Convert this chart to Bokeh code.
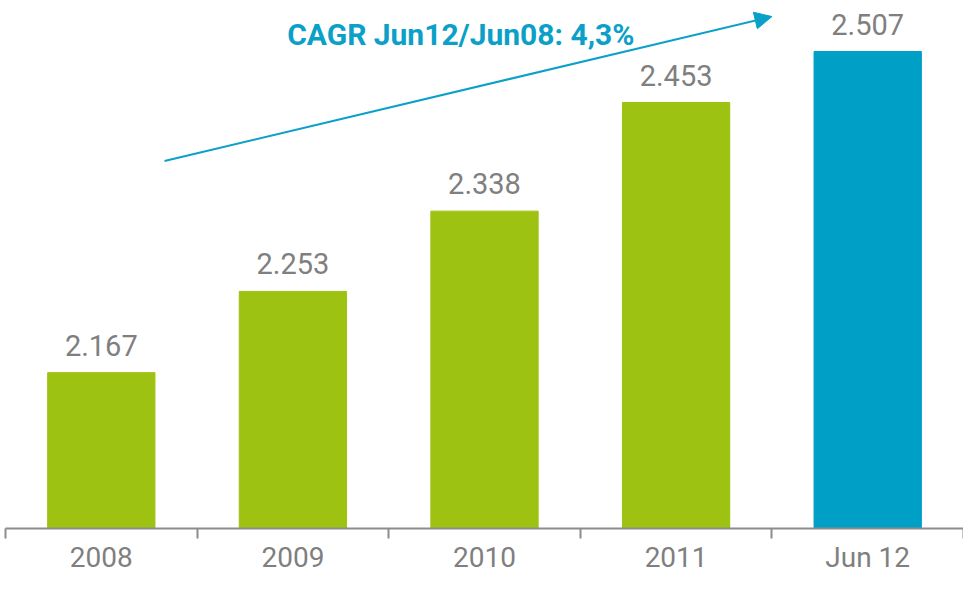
from bokeh.plotting import figure
from bokeh.models import ColumnDataSource, LabelSet, Label, Arrow, NormalHead, FixedTicker, Range1d
from bokeh.core.properties import value
from bokeh.embed import file_html
from bokeh.resources import INLINE

# ---- data ----
categories = ["2008", "2009", "2010", "2011", "Jun 12"]
values = [2167, 2253, 2338, 2453, 2507]
value_labels = ["2.167", "2.253", "2.338", "2.453", "2.507"]
bar_colors = ["#9EC212", "#9EC212", "#9EC212", "#9EC212", "#009FC6"]
cagr_text = "CAGR Jun12/Jun08: 4,3%"
y_base = 2002

# annotation positions (x in category units, y in value units)
arrow_start = (0.83, 2391)
arrow_end = (4.0, 2544)
cagr_pos = (1.47, 2525)

GRAY = "#7F7F7F"
AXIS_GRAY = "#8C8C8C"
BLUE = "#0AA0C8"
FONT = "Roboto"

n = len(categories)
xs = [i + 0.5 for i in range(n)]
src = ColumnDataSource(dict(x=xs, top=values, label=value_labels, color=bar_colors))

p = figure(width=963, height=576, output_backend="svg", toolbar_location=None,
           x_range=Range1d(0, n), y_range=Range1d(y_base, 2561),
           min_border_left=5, min_border_right=0, min_border_top=0, min_border_bottom=0)
p.outline_line_color = None
p.background_fill_color = "white"
p.border_fill_color = "white"
p.grid.visible = False
p.yaxis.visible = False

p.vbar(x="x", top="top", bottom=y_base, width=0.56, color="color", source=src)

ax = p.xaxis[0]
ax.ticker = FixedTicker(ticks=xs, minor_ticks=list(range(n + 1)))
ax.major_label_overrides = {x: c for x, c in zip(xs, categories)}
ax.major_tick_out = 0
ax.major_tick_in = 0
ax.minor_tick_out = 10
ax.minor_tick_in = 0
ax.minor_tick_line_color = AXIS_GRAY
ax.minor_tick_line_width = 2
ax.axis_line_color = AXIS_GRAY
ax.axis_line_width = 2
ax.major_label_text_font = FONT
ax.major_label_text_font_size = "28px"
ax.major_label_text_color = GRAY
ax.major_label_standoff = 2
ax.major_label_text_line_height = 1.0

labels = LabelSet(x="x", y="top", text="label", source=src, text_align="center",
                  text_baseline="alphabetic", y_offset=17, text_font=value(FONT),
                  text_font_size=value("29px"), text_color=GRAY)
p.add_layout(labels)

p.add_layout(Arrow(end=NormalHead(size=17, fill_color=BLUE, line_color=BLUE),
                   x_start=arrow_start[0], y_start=arrow_start[1],
                   x_end=arrow_end[0], y_end=arrow_end[1],
                   line_color=BLUE, line_width=2))

p.add_layout(Label(x=cagr_pos[0], y=cagr_pos[1], text=cagr_text, text_font=FONT,
                   text_font_size="30px", text_font_style="bold", text_color=BLUE,
                   text_baseline="alphabetic", text_align="left"))

open("out.html", "w").write(file_html(p, INLINE))
